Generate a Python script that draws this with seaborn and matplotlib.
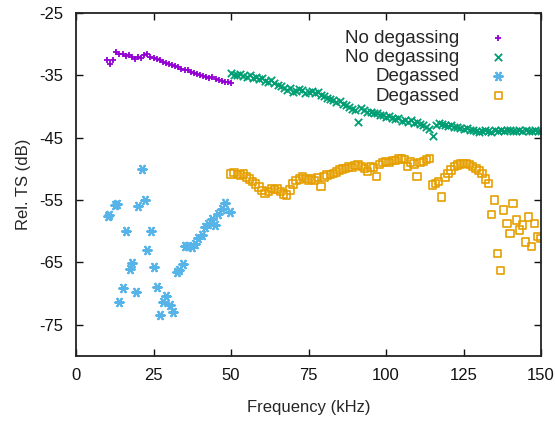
import numpy as np
import pandas as pd
import matplotlib
matplotlib.use("Agg")
import matplotlib.pyplot as plt
import seaborn as sns

# ---- data ----
purple_f = [10, 11, 12, 13, 14, 15, 16, 17, 18, 19, 20, 21, 22, 23, 24, 25, 26, 27, 28, 29, 30,
            31, 32, 33, 34, 35, 36, 37, 38, 39, 40, 41, 42, 43, 44, 45, 46, 47, 48, 49, 50]
purple_v = [-32.5, -33.2, -32.6, -31.3, -31.6, -31.5, -31.9, -31.8, -32.1, -32.3, -32.0,
            -32.2, -31.8, -31.6, -32.0, -32.2, -32.4, -32.6, -32.8, -33.0, -33.1,
            -33.3, -33.5, -33.7, -33.9, -34.1, -34.2, -34.5, -34.6, -34.8, -34.9,
            -35.1, -35.2, -35.4, -35.3, -35.6, -35.7, -35.9, -36.0, -36.1, -36.2]

green_f = list(range(50, 151))
green_v = [-34.6, -34.9, -35.0, -34.8, -35.1, -35.2, -35.0, -35.4, -35.3, -35.6,
           -35.5, -35.9, -36.1, -35.8, -36.3, -36.6, -36.7, -37.0, -37.3, -37.1,
           -37.6, -37.5, -37.2, -37.4, -37.8, -37.6, -37.5, -37.9, -37.7, -38.1,
           -38.3, -38.6, -38.8, -38.9, -39.2, -39.1, -39.6, -39.8, -40.1, -40.4,
           -40.5, -42.4, -40.2, -40.6, -40.8, -40.9, -41.1, -41.0, -41.3, -41.4,
           -41.6, -41.5, -41.8, -42.0, -41.9, -42.3, -42.1, -42.4, -42.2, -42.6,
           -42.5, -42.8, -43.0, -43.2, -43.6, -44.8, -42.9, -42.6, -42.8, -43.0,
           -43.1, -42.9, -43.3, -43.2, -43.4, -43.6, -43.5, -43.8, -43.7, -43.9,
           -44.1, -44.0, -43.8, -43.9, -44.1, -43.8, -43.9, -43.7, -43.9, -43.8,
           -43.7, -43.9, -44.0, -43.8, -43.9, -43.7, -43.9, -44.0, -43.8, -43.9,
           -44.0]

blue_f = [10.4, 10.8, 12.6, 13.3, 14.0, 15.0, 16.1, 17.4, 18.0, 19.4, 20.1, 21.2, 22.3,
          23.0, 24.1, 25.2, 26.0, 27.1, 28.2, 29.0, 30.3, 31.4, 32.5, 33.3, 34.4, 35.2,
          36.2, 37.3, 38.4, 39.5, 40.5, 41.6, 42.7, 43.8, 44.8, 45.9, 47.0, 48.1, 49.7]
blue_v = [-57.6, -57.4, -55.8, -55.6, -71.4, -69.1, -59.9, -66.0, -65.1, -69.8, -56.0,
          -50.0, -55.0, -63.0, -60.0, -65.8, -69.0, -73.4, -71.4, -70.3, -71.9, -72.9,
          -66.6, -66.2, -65.2, -62.4, -62.3, -62.6, -62.0, -61.0, -60.6, -59.3, -58.8,
          -58.0, -59.0, -57.2, -56.4, -55.5, -56.9]

orange_f = list(range(50, 151))
orange_v = [-50.8, -50.6, -50.9, -51.0, -50.8, -51.3, -51.6, -52.0, -52.4, -52.9,
            -53.5, -53.9, -53.6, -53.1, -53.3, -53.2, -53.6, -54.0, -54.2, -53.4,
            -52.4, -51.9, -51.6, -51.2, -51.5, -51.8, -51.6, -51.9, -51.4, -52.8,
            -51.3, -51.0, -50.9, -50.7, -50.5, -50.2, -50.0, -49.9, -49.7, -49.8,
            -49.5, -49.4, -49.6, -49.9, -50.4, -49.7, -49.8, -51.2, -49.3, -49.0,
            -48.8, -49.0, -48.7, -48.6, -48.4, -48.3, -48.5, -49.6, -48.9, -49.2,
            -51.2, -49.0, -48.8, -48.5, -48.3, -52.6, -52.3, -52.0, -54.5, -51.4,
            -50.7, -50.2, -49.6, -49.4, -49.2, -49.1, -49.1, -49.3, -49.6, -49.9,
            -50.3, -50.7, -51.6, -52.3, -57.3, -55.0, -63.6, -66.3, -56.6, -58.8,
            -60.4, -55.5, -58.2, -59.8, -59.0, -61.7, -57.7, -62.4, -58.8, -60.8,
            -61.2]

labels = ["No degassing", "No degassing", "Degassed", "Degassed"]
x_ticks = [0, 25, 50, 75, 100, 125, 150]
y_ticks = [-75, -65, -55, -45, -35, -25]

# ---- style ----
sns.set_style("ticks")
plt.rcParams['font.family'] = ['Liberation Sans', 'DejaVu Sans']
plt.rcParams['axes.unicode_minus'] = False

fig = plt.figure(figsize=(5.55, 4.26), dpi=100)
ax = fig.add_axes([76/555, 1 - 356/426, (541-76)/555, (356-13)/426])

purple = "#9400d3"
green = "#009e73"
blue = "#56b4e9"
orange = "#e69f00"

sns.scatterplot(x=purple_f, y=purple_v, ax=ax, marker="+", color=purple, s=22,
                linewidth=1.3, label=labels[0])
sns.scatterplot(x=green_f, y=green_v, ax=ax, marker="x", color=green, s=28,
                linewidth=1.3, label=labels[1])
sns.scatterplot(x=blue_f, y=blue_v, ax=ax, marker=(6, 2, 90), color=blue, s=38,
                linewidth=1.5, label=labels[2])
sns.scatterplot(x=orange_f, y=orange_v, ax=ax, marker="s", facecolor="none",
                edgecolor=orange, color=orange, s=28, linewidth=1.2, label=labels[3])

ax.set_xlim(0, 150)
ax.set_ylim(-80, -25)
ax.set_xticks(x_ticks)
ax.set_yticks(y_ticks)
ax.tick_params(direction="in", length=5, width=1, top=True, right=True,
               labelsize=12, pad=9, colors="#111111")
for sp in ax.spines.values():
    sp.set_linewidth(1.3)
    sp.set_color("#222222")
ax.set_xlabel("Frequency (kHz)", fontsize=12, labelpad=12)
ax.set_ylabel("Rel. TS (dB)", fontsize=12, labelpad=6)

leg = ax.legend(loc="upper right", bbox_to_anchor=(0.965, 0.985), frameon=False,
                markerfirst=False, fontsize=13.5, labelspacing=0.12,
                handletextpad=1.3, handlelength=1.6, borderaxespad=0.2)

fig.savefig("out.png", dpi=100)
